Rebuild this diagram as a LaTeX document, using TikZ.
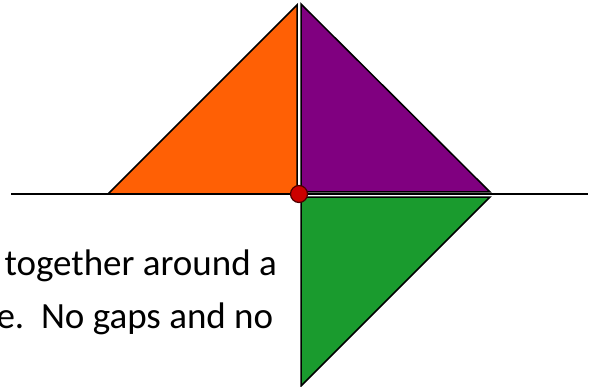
\documentclass[tikz,border=0pt]{standalone}
\usepackage{fontspec}
\setmainfont{Carlito}
\definecolor{orangepiece}{RGB}{255,96,5}
\definecolor{purplepiece}{RGB}{128,0,128}
\definecolor{greenpiece}{RGB}{26,155,46}
\definecolor{reddot}{RGB}{204,0,0}
\tikzset{
	piece/.style={draw=black,line width=1.5pt,line join=miter},
	caption/.style={anchor=base west,font=\fontsize{37}{43}\selectfont}
}
\begin{document}
\begin{tikzpicture}[x=1pt,y=-1pt]
		\useasboundingbox (0,0) rectangle (593,387);
		
		\draw[line width=2pt] (11,194) -- (588,194);
		
		\draw[piece,fill=orangepiece] (108,194) -- (297,5) -- (297,194) -- cycle;
		\draw[piece,fill=purplepiece] (301,4) -- (301,192) -- (490,192) -- cycle;
		\draw[piece,fill=greenpiece] (301,197) -- (490,197) -- (301,386) -- cycle;
		
		\node[circle,fill=reddot,draw=black!70!red,line width=1.2pt,inner sep=0pt,minimum size=17pt] (center) at (299,194) {};
		
		\node[caption] (lineone) at (1,275) {together around a};
		\node[caption] (linetwo) at (-7,328) {e.\ \ No gaps and no};
	\end{tikzpicture}
\end{document}
